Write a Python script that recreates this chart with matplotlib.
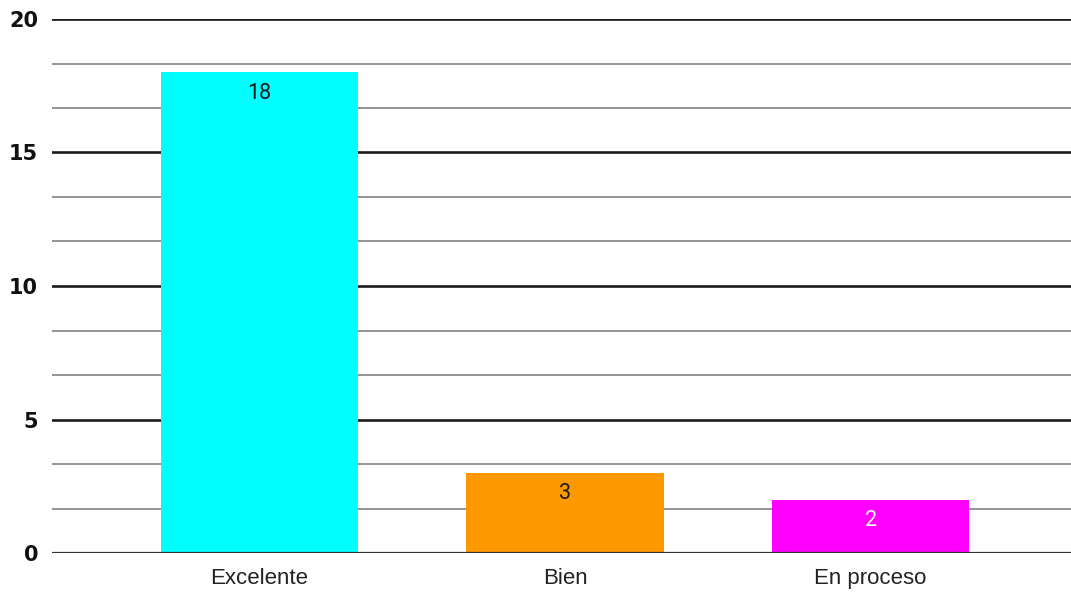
import matplotlib.pyplot as plt
from matplotlib.ticker import MultipleLocator

# datos
categorias = ["Excelente", "Bien", "En proceso"]
valores = [18, 3, 2]
colores = ["#00FFFF", "#FF9900", "#FF00FF"]
color_texto = ["#1a1a1a", "#1a1a1a", "#FFFFFF"]
ticks_y = [0, 5, 10, 15, 20]

fig = plt.figure(figsize=(10.71, 5.96), dpi=100)
ax = fig.add_axes([52 / 1071, 43 / 596, 1019 / 1071, 534 / 596])

x = range(len(categorias))
barras = ax.bar(x, valores, width=0.645, color=colores, zorder=3)

# etiquetas de valor dentro de la barra
for xi, v, c in zip(x, valores, color_texto):
    ax.text(xi, v - 0.78, str(v), ha="center", va="center",
            fontsize=15.5, family="Roboto", color=c, zorder=4)

ax.set_xlim(-0.679, 2.656)
ax.set_ylim(0, 20)
ax.set_yticks(ticks_y)
ax.yaxis.set_minor_locator(MultipleLocator(5 / 3))

ax.grid(axis="y", which="major", color="#1a1a1a", linewidth=1.9, zorder=1)
ax.grid(axis="y", which="minor", color="#8c8c8c", linewidth=1.3, zorder=1)
ax.axhline(0, color="#333333", linewidth=1.6, zorder=5)

for s in ax.spines.values():
    s.set_visible(False)

ax.tick_params(axis="both", which="both", length=0)
ax.tick_params(axis="y", pad=10)
ax.tick_params(axis="x", pad=11)
ax.set_xticks(list(x))
ax.set_xticklabels(categorias, fontsize=16, family="Liberation Sans", color="#222222")
for lab in ax.get_yticklabels():
    lab.set_fontsize(15)
    lab.set_fontweight("bold")
    lab.set_family("DejaVu Sans")
    lab.set_color("#111111")

fig.savefig("out.png", dpi=100)
